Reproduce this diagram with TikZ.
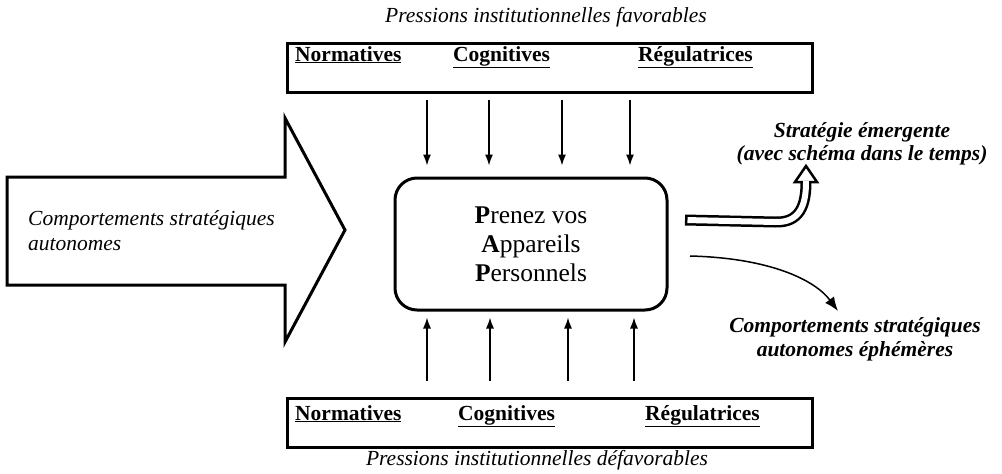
\documentclass[tikz,border=0pt]{standalone}
\usepackage{fontspec}
\setmainfont{Liberation Serif}
\usetikzlibrary{arrows.meta}
\begin{document}
\begin{tikzpicture}[x=1pt,y=-1pt,
  lbl/.style={font=\fontsize{21.5}{25}\selectfont\bfseries, inner sep=0, anchor=base west},
  ttl/.style={font=\fontsize{21.5}{25}\selectfont\itshape, inner sep=0, anchor=base},
  outtxt/.style={font=\fontsize{21.5}{23.5}\selectfont\bfseries\itshape, inner sep=0, align=center, anchor=base},
  pbox/.style={draw, line width=3, minimum width=525, minimum height=49, inner sep=0},
  pil/.style={line width=1.3, -{Latex[length=11,width=8]}}]
\useasboundingbox (0,0) rectangle (1002,474);
% titles
\node[ttl] (t1) at (546,22) {Pressions institutionnelles favorables};
\node[ttl] (t2) at (537,465) {Pressions institutionnelles défavorables};
% pressure boxes
\node[pbox] (topbox) at (549.5,67.5) {};
\node[pbox] (botbox) at (549.5,422.5) {};
\node[lbl] (tn) at (295,61) {\underline{Normatives}};
\node[lbl] (tc) at (453,61) {\underline{Cognitives}};
\node[lbl] (tr) at (638,61) {\underline{Régulatrices}};
\node[lbl] (bn) at (295,420) {\underline{Normatives}};
\node[lbl] (bc) at (458,420) {\underline{Cognitives}};
\node[lbl] (br) at (645,420) {\underline{Régulatrices}};
% central box
\node[draw, line width=3, rounded corners=22, minimum width=272, minimum height=132,
  align=center, font=\fontsize{25.5}{29}\selectfont] (box) at (531,244)
  {\textbf{P}renez vos\\\textbf{A}ppareils\\\textbf{P}ersonnels};
% big arrow
\draw[line width=3, line join=miter] (7,177) -- (285,177) -- (285,118) -- (345,230)
  -- (285,342) -- (285,285) -- (7,285) -- cycle;
\node[font=\fontsize{21.5}{25}\selectfont\itshape, inner sep=0, align=left, anchor=base west]
  (ca) at (28,250) {Comportements stratégiques\\autonomes};
% pressure arrows
\foreach \x in {427,489,562,630}
  \draw[pil, shorten <=6, shorten >=11] (topbox.south -| \x,0) -- (box.north -| \x,0);
\foreach \x in {427,490,568,634}
  \draw[pil, shorten <=16, shorten >=6] (botbox.north -| \x,0) -- (box.south -| \x,0);
% hollow arrow
\coordinate (hs) at (685,220);
\coordinate (hb) at (806,182);
\draw[line width=11] (hs) -- (775,222) .. controls (800,223) and (806,205) .. (hb);
\draw[line width=6, white, shorten <=2.5] (hs) -- (775,222) .. controls (800,223) and (806,205) .. (hb);
\filldraw[fill=white, line width=2.5, line join=miter] (795,182) -- (806,166) -- (817,182) -- cycle;
\draw[line width=6, white] (806,186) -- (806,180.6);
\node[outtxt] (se) at (862,160.5) {Stratégie émergente\\(avec schéma dans le temps)};
% thin curved arrow
\coordinate (cs) at (690,256);
\node[outtxt] (ce) at (855,356) {Comportements stratégiques\\autonomes éphémères};
\draw[line width=1.5, -{Latex[length=14,width=11]}] (cs) .. controls (770,258) and (815,280) .. (838,311);
\end{tikzpicture}
\end{document}
